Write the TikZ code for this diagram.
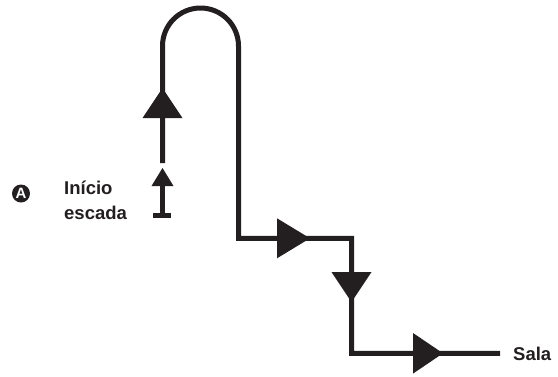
\documentclass[tikz,border=0pt]{standalone}
\usepackage{fontspec}
\setmainfont{Liberation Sans}
\definecolor{ink}{HTML}{231F20}
\begin{document}
\begin{tikzpicture}[x=1pt,y=-1pt,
  route/.style={draw=ink,line width=5pt},
  tri/.style={fill=ink,draw=none},
  lbl/.style={font=\fontsize{18.5}{24}\selectfont\bfseries,text=ink,inner sep=0pt,anchor=base west}]
\useasboundingbox (0,0) rectangle (558,376);
% named points of the route
\coordinate (start) at (162.5,215.5);
\coordinate (gapend) at (162.5,186);
\coordinate (resume) at (162.5,163);
\coordinate (archL) at (162.5,46);
\coordinate (archR) at (238.5,46);
\coordinate (c1) at (238.5,238.3);
\coordinate (c2) at (351.5,238.3);
\coordinate (c3) at (351.5,353.3);
\coordinate (finish) at (500,353.3);
% start bar and first short segment
\draw[route] (153,215.5) -- (171,215.5);
\draw[route] (start) -- (gapend);
% main route
\draw[route,line join=miter] (resume) -- (archL) arc[start angle=180,end angle=360,radius=38] -- (c1) -- (c2) -- (c3) -- (finish);
% arrowheads
\fill[tri] (162.5,168) -- (151.5,186) -- (173.5,186) -- cycle;
\fill[tri] (162.5,88) -- (142.5,118) -- (182.5,118) -- cycle;
\fill[tri] (310,238.3) -- (277,218.3) -- (277,258.3) -- cycle;
\fill[tri] (351.5,302) -- (331.5,272) -- (371.5,272) -- cycle;
\fill[tri] (443,353.3) -- (413,333) -- (413,373.6) -- cycle;
% labels
\node[circle,fill=ink,minimum size=18pt,inner sep=0pt,text=white,font=\fontsize{15}{15}\selectfont\bfseries] (markA) at (21,193.5) {A};
\node[lbl] (inicio) at (64,194.5) {Início};
\node[lbl] (escada) at (64,219) {escada};
\node[lbl] (sala) at (513,360) {Sala};
\end{tikzpicture}
\end{document}
